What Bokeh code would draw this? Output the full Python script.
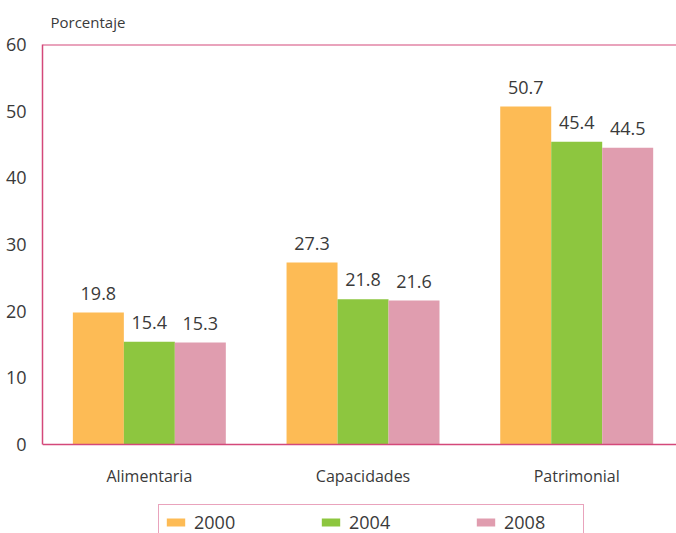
from bokeh.plotting import figure
from bokeh.models import (ColumnDataSource, Range1d, FixedTicker, Span, Legend, LegendItem)
from bokeh.embed import file_html
from bokeh.resources import INLINE
from bokeh.core.properties import value

categories = ["Alimentaria", "Capacidades", "Patrimonial"]
years = ["2000", "2004", "2008"]
v2000 = [19.8, 27.3, 50.7]
v2004 = [15.4, 21.8, 45.4]
v2008 = [15.3, 21.6, 44.5]
colors = ["#FDBB55", "#8DC63F", "#E09DAF"]
yticks = [0, 10, 20, 30, 40, 50, 60]

FONT = "Open Sans"
PINK = "#D4487A"
TXT = "#3a3a3a"

# frame spans the canvas below the title; y=0 sits 89px above the bottom edge
p = figure(width=676, height=533, output_backend="svg", toolbar_location=None,
           x_range=Range1d(0, 2.967), y_range=Range1d(-13.35, 60),
           x_axis_location=None,
           min_border_left=42, min_border_right=0, min_border_top=44, min_border_bottom=0)
p.background_fill_color = "white"
p.border_fill_color = "white"
p.outline_line_color = None
p.xgrid.visible = False
p.ygrid.visible = False

p.title.text = "Porcentaje"
p.title.align = "left"
p.title.vertical_align = "top"
p.title.offset = 8
p.title.text_font = FONT
p.title.text_font_style = "normal"
p.title.text_font_size = "15px"
p.title.text_color = TXT
p.title.standoff = 22

width = 0.2386
centers = [i + 0.5 for i in range(len(categories))]
offsets = [-width, 0.0, width]
series = [v2000, v2004, v2008]

renderers = []
for vals, off, col in zip(series, offsets, colors):
    src = ColumnDataSource(dict(x=[c + off for c in centers], top=vals,
                                lab=[f"{v:.1f}" for v in vals]))
    r = p.vbar(x="x", top="top", width=width, source=src, fill_color=col, line_color=None)
    renderers.append(r)
    p.text(x="x", y="top", text="lab", source=src, text_align="center", text_baseline="bottom",
           y_offset=-13, text_font=value(FONT), text_font_size="18px", text_color=TXT)

# category labels under the baseline
cat_src = ColumnDataSource(dict(x=centers, y=[0] * len(centers), name=categories))
p.text(x="x", y="y", text="name", source=cat_src, text_align="center", text_baseline="middle",
       y_offset=31, text_font=value(FONT), text_font_size="16px", text_color=TXT)

# y axis
p.yaxis.ticker = FixedTicker(ticks=yticks)
p.yaxis.bounds = (0, 60)
p.yaxis.axis_line_color = PINK
p.yaxis.axis_line_width = 1.5
p.yaxis.major_tick_line_color = None
p.yaxis.minor_tick_line_color = None
p.yaxis.major_label_standoff = 10
p.yaxis.major_label_text_font = FONT
p.yaxis.major_label_text_font_size = "18px"
p.yaxis.major_label_text_color = TXT

p.add_layout(Span(location=60, dimension="width", line_color=PINK, line_width=2))
p.add_layout(Span(location=0, dimension="width", line_color=PINK, line_width=1.5))

legend = Legend(items=[LegendItem(label=y, renderers=[r]) for y, r in zip(years, renderers)],
                orientation="horizontal", location=(116, -7))
legend.border_line_color = PINK
legend.border_line_width = 1.5
legend.background_fill_color = "white"
legend.glyph_width = 23
legend.glyph_height = 10
legend.label_width = 74
legend.label_height = 17
legend.label_standoff = 7
legend.spacing = 51
legend.padding = 5
legend.margin = 0
legend.label_text_font = FONT
legend.label_text_font_size = "18px"
legend.label_text_color = TXT
p.add_layout(legend)

open("out.html", "w").write(file_html(p, INLINE))
